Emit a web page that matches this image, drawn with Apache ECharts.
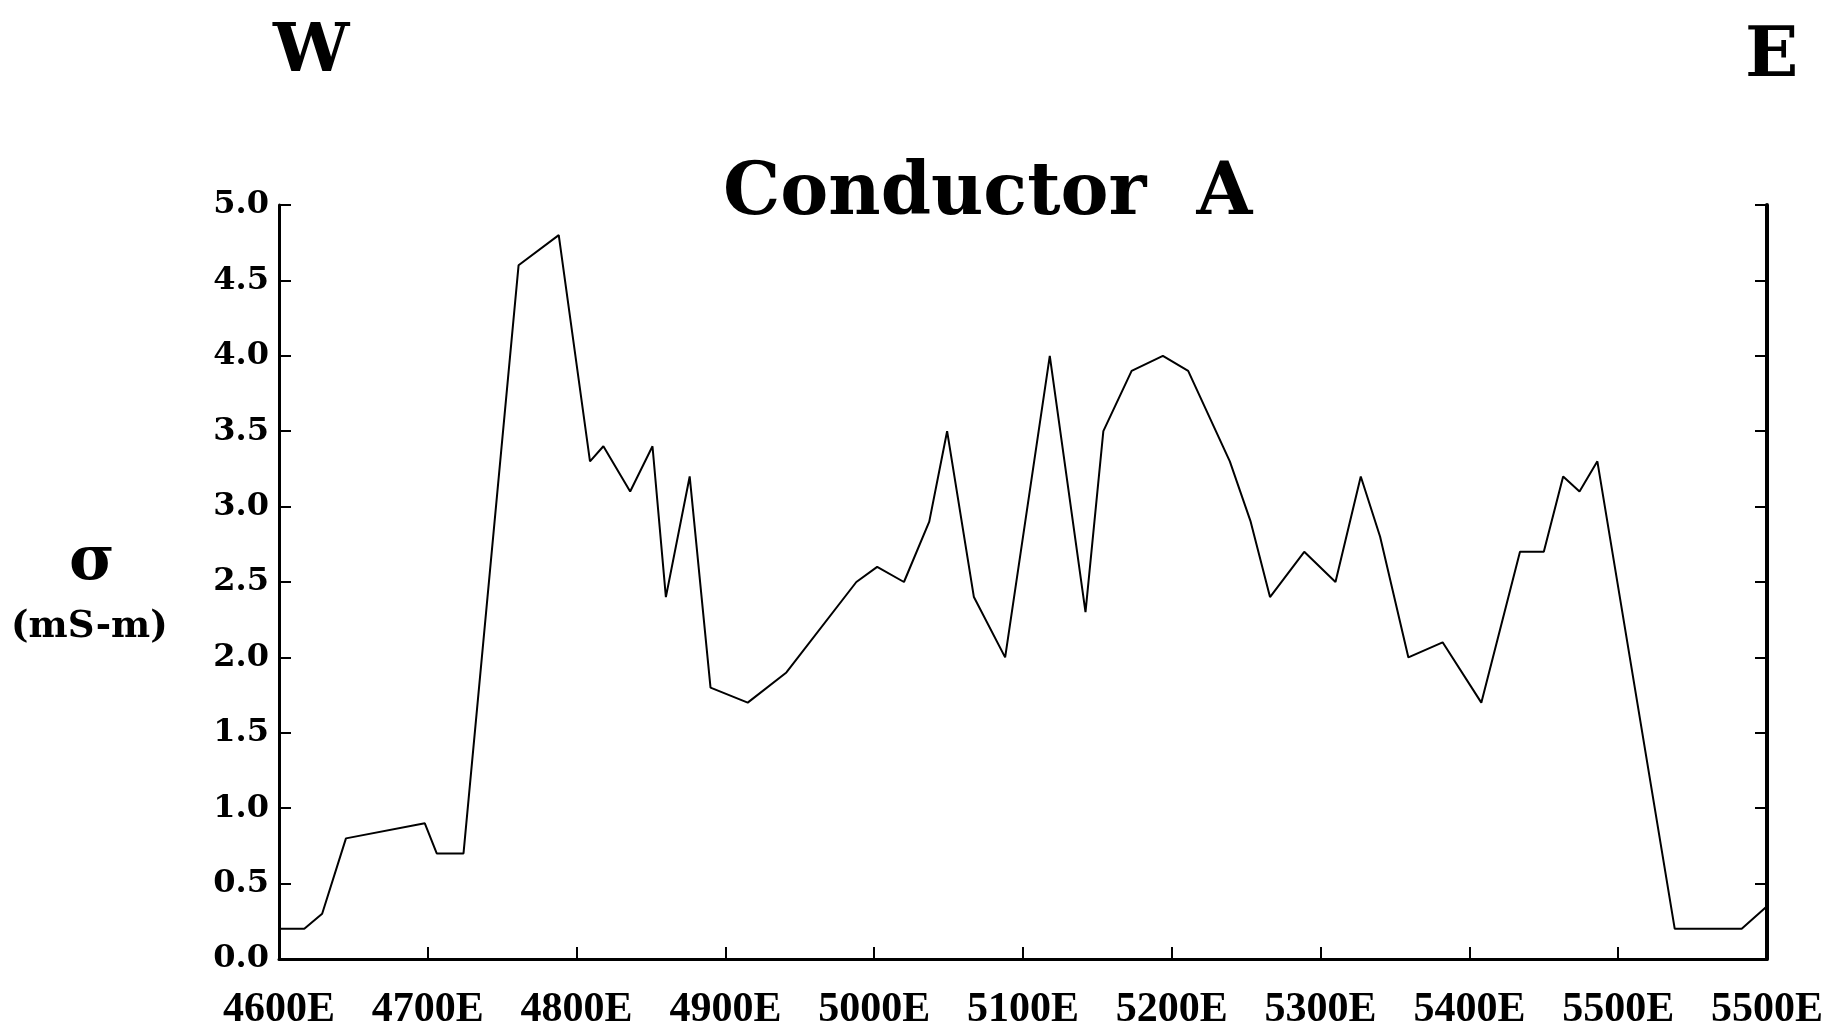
<!DOCTYPE html>
<html>
<head>
<meta charset="utf-8">
<script src="https://cdn.jsdelivr.net/npm/echarts@6/dist/echarts.min.js"></script>
<style>
html, body { margin: 0; padding: 0; background: #fff; }
#chart { width: 1848px; height: 1031px; }
</style>
</head>
<body>
<div id="chart"></div>
<script>
// station positions (m east) and conductivity
var stations = [4600, 4617, 4629, 4645, 4698, 4706, 4724, 4761, 4788, 4809, 4818, 4836, 4851, 4860, 4876,
    4890, 4915, 4941, 4988, 5002, 5020, 5037, 5049, 5067, 5088, 5118, 5142, 5154, 5173,
    5194, 5211, 5239, 5253, 5266, 5289, 5310, 5327, 5340, 5359, 5382, 5408, 5434, 5450, 5463, 5474, 5486,
    5538, 5583, 5600];
var sigma = [0.2, 0.2, 0.3, 0.8, 0.9, 0.7, 0.7, 4.6, 4.8, 3.3, 3.4, 3.1, 3.4, 2.4, 3.2,
    1.8, 1.7, 1.9, 2.5, 2.6, 2.5, 2.9, 3.5, 2.4, 2.0, 4.0, 2.3, 3.5, 3.9,
    4.0, 3.9, 3.3, 2.9, 2.4, 2.7, 2.5, 3.2, 2.8, 2.0, 2.1, 1.7, 2.7, 2.7, 3.2, 3.1, 3.3,
    0.2, 0.2, 0.35];
var xTickLabels = ['4600E', '4700E', '4800E', '4900E', '5000E', '5100E', '5200E', '5300E', '5400E', '5500E', '5500E'];
var yTickLabels = ['0.0', '0.5', '1.0', '1.5', '2.0', '2.5', '3.0', '3.5', '4.0', '4.5', '5.0'];

var chart = echarts.init(document.getElementById('chart'));
var points = [];
for (var i = 0; i < stations.length; i++) {
    points.push([stations[i], sigma[i]]);
}

var option = {
    backgroundColor: '#fff',
    animation: false,
    title: [
        {
            text: 'Conductor  A',
            left: 718, top: 154,
            textStyle: { fontFamily: 'DejaVu Serif', fontWeight: 'bold', fontSize: 72, color: '#000' }
        },
        {
            text: 'W',
            left: 268, top: 14,
            textStyle: { fontFamily: 'DejaVu Serif', fontWeight: 'bold', fontSize: 68, color: '#000' }
        },
        {
            text: 'E',
            left: 1740, top: 18,
            textStyle: { fontFamily: 'DejaVu Serif', fontWeight: 'bold', fontSize: 70, color: '#000' }
        },
        {
            text: 'σ',
            left: 64, top: 527,
            textStyle: { fontFamily: 'DejaVu Serif', fontWeight: 'bold', fontSize: 62, color: '#000' }
        },
        {
            text: '(mS-m)',
            left: 6, top: 604,
            textStyle: { fontFamily: 'DejaVu Serif', fontWeight: 'bold', fontSize: 37, color: '#000' }
        }
    ],
    grid: { left: 279, right: 81, top: 205, bottom: 71 },
    xAxis: {
        type: 'value',
        min: 4600, max: 5600, interval: 100,
        splitLine: { show: false },
        axisLine: { lineStyle: { color: '#000', width: 3 } },
        axisTick: { inside: true, length: 12, lineStyle: { color: '#000', width: 2 } },
        axisLabel: {
            margin: 30,
            color: '#000',
            fontFamily: 'Liberation Serif', fontWeight: 'bold', fontSize: 42,
            formatter: function (v) { return xTickLabels[Math.round((v - 4600) / 100)]; }
        }
    },
    yAxis: [
        {
            type: 'value',
            min: 0, max: 5, interval: 0.5,
            splitLine: { show: false },
            axisLine: { show: true, lineStyle: { color: '#000', width: 3 } },
            axisTick: { show: true, inside: true, length: 12, lineStyle: { color: '#000', width: 2 } },
            axisLabel: {
                margin: 10,
                color: '#000',
                fontFamily: 'DejaVu Serif', fontWeight: 'bold', fontSize: 32,
                formatter: function (v) { return yTickLabels[Math.round(v / 0.5)]; }
            }
        },
        {
            type: 'value',
            position: 'right',
            min: 0, max: 5, interval: 0.5,
            splitLine: { show: false },
            axisLine: { show: true, lineStyle: { color: '#000', width: 4 } },
            axisTick: { show: true, inside: true, length: 12, lineStyle: { color: '#000', width: 2 } },
            axisLabel: { show: false }
        }
    ],
    series: [{
        type: 'line',
        data: points,
        showSymbol: false,
        lineStyle: { color: '#000', width: 2 }
    }]
};
chart.setOption(option);
</script>
</body>
</html>
